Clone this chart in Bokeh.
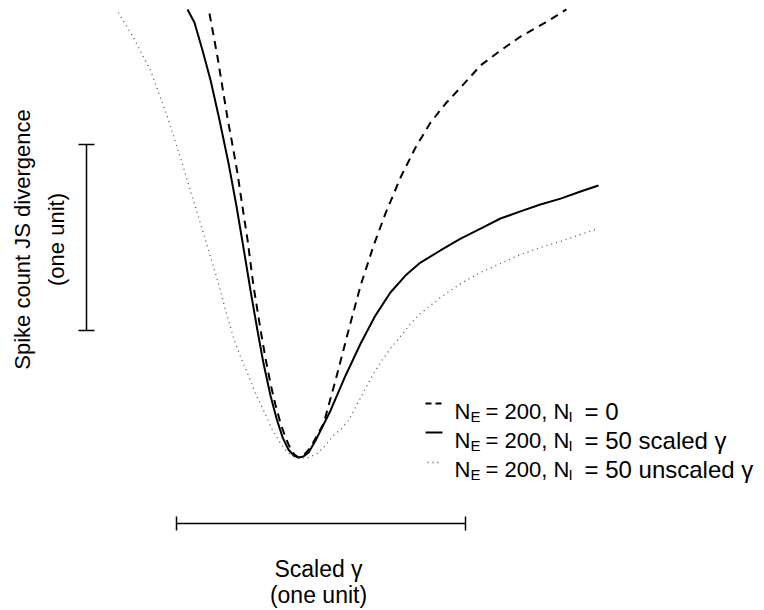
from bokeh.plotting import figure
from bokeh.models import Range1d, Label
from bokeh.embed import file_html
from bokeh.resources import INLINE
import math

# ---------------- data (scaled gamma, JS divergence, both in "one unit" scale) ----------------
dashed_gamma = [-0.308, -0.294, -0.280, -0.263, -0.246, -0.228, -0.211, -0.194, -0.176, -0.156,
                -0.131, -0.114, -0.097, -0.080, -0.062, -0.045, -0.028, -0.014, 0.0,
                0.017, 0.042, 0.087, 0.128, 0.173, 0.215, 0.260, 0.301, 0.353, 0.405,
                0.457, 0.509, 0.561, 0.630, 0.699, 0.768, 0.855, 0.927]
dashed_js = [2.387, 2.269, 2.151, 1.989, 1.828, 1.677, 1.527, 1.349, 1.167, 0.925,
             0.683, 0.532, 0.398, 0.285, 0.183, 0.108, 0.048, 0.016, 0.0,
             0.011, 0.054, 0.183, 0.414, 0.683, 0.925, 1.140, 1.312, 1.505, 1.667,
             1.801, 1.903, 1.989, 2.108, 2.188, 2.263, 2.339, 2.409]

solid_gamma = [-0.384, -0.360, -0.332, -0.304, -0.273, -0.242, -0.215, -0.190, -0.166, -0.142,
               -0.121, -0.097, -0.076, -0.055, -0.035, -0.017, 0.0,
               0.017, 0.035, 0.059, 0.111, 0.163, 0.215, 0.266, 0.318, 0.370, 0.422,
               0.491, 0.561, 0.630, 0.699, 0.768, 0.837, 0.907, 0.976, 1.038]
solid_js = [2.409, 2.339, 2.188, 2.027, 1.812, 1.581, 1.355, 1.124, 0.898, 0.683,
            0.505, 0.333, 0.210, 0.108, 0.043, 0.011, 0.0,
            0.005, 0.027, 0.091, 0.253, 0.441, 0.613, 0.763, 0.887, 0.978, 1.048,
            1.113, 1.177, 1.231, 1.285, 1.323, 1.360, 1.392, 1.430, 1.462]

dotted_gamma = [-0.623, -0.599, -0.571, -0.543, -0.512, -0.484, -0.453, -0.426, -0.398, -0.370,
                -0.339, -0.311, -0.280, -0.253, -0.225, -0.201, -0.176, -0.149, -0.121, -0.093,
                -0.062, -0.038, -0.017, 0.007,
                0.035, 0.066, 0.093, 0.121, 0.149, 0.173, 0.201, 0.228, 0.256, 0.284,
                0.318, 0.353, 0.388, 0.422, 0.491, 0.561, 0.630, 0.699, 0.768, 0.837,
                0.917, 0.976, 1.038]
dotted_js = [2.392, 2.328, 2.258, 2.172, 2.081, 1.962, 1.828, 1.699, 1.559, 1.414,
             1.258, 1.113, 0.952, 0.796, 0.645, 0.543, 0.452, 0.344, 0.253, 0.156,
             0.075, 0.027, 0.005, -0.005,
             0.0, 0.022, 0.065, 0.118, 0.156, 0.199, 0.280, 0.360, 0.441, 0.511,
             0.586, 0.651, 0.720, 0.774, 0.860, 0.935, 0.995, 1.043, 1.091, 1.129,
             1.167, 1.199, 1.231]

legend_labels = [("N", "E", "= 200, N", "I", "= 0"),
                 ("N", "E", "= 200, N", "I", "= 50 scaled \u03b3"),
                 ("N", "E", "= 200, N", "I", "= 50 unscaled \u03b3")]
x_label = ["Scaled \u03b3", "(one unit)"]
y_label = ["Spike count JS divergence", "(one unit)"]

# ---------------- layout ----------------
W, H = 764, 610
X0, Y0, SX, SY = 298.0, 457.0, 289.0, 186.0   # pixel of (0,0) and pixels per unit

def dx(px):
    return (px - X0) / SX

def dy(py):
    return (Y0 - py) / SY

p = figure(width=W, height=H, output_backend="svg", toolbar_location=None,
           x_range=Range1d(dx(0), dx(W)), y_range=Range1d(dy(H), dy(0)),
           min_border=0, outline_line_color=None)
p.xaxis.visible = False
p.yaxis.visible = False
p.grid.visible = False
p.background_fill_color = "white"
p.border_fill_color = "white"

DASH = "8 6"
DOT = "1 4"
DOT_COLOR = "#555555"

p.line(dashed_gamma, dashed_js, line_color="black", line_width=2, line_dash=DASH)
p.line(solid_gamma, solid_js, line_color="black", line_width=2)
p.line(dotted_gamma, dotted_js, line_color=DOT_COLOR, line_width=1.3, line_dash=DOT)

# scale bars (one unit each)
hb_y = dy(523)
hb_x0 = dx(176)
p.segment(x0=[hb_x0], y0=[hb_y], x1=[hb_x0 + 1.0], y1=[hb_y], line_color="black", line_width=1.5)
p.segment(x0=[hb_x0, hb_x0 + 1.0], y0=[hb_y - 7 / SY] * 2, x1=[hb_x0, hb_x0 + 1.0], y1=[hb_y + 7 / SY] * 2,
          line_color="black", line_width=1.5)
vb_x = dx(86)
vb_y0 = dy(330)
p.segment(x0=[vb_x], y0=[vb_y0], x1=[vb_x], y1=[vb_y0 + 1.0], line_color="black", line_width=1.5)
p.segment(x0=[vb_x - 8 / SX] * 2, y0=[vb_y0, vb_y0 + 1.0], x1=[vb_x + 8 / SX] * 2, y1=[vb_y0, vb_y0 + 1.0],
          line_color="black", line_width=1.5)

FONT = "Liberation Sans"

def lab(x, y, text, size=22, angle=0.0, align="left"):
    p.add_layout(Label(x=x, y=H - y, x_units="screen", y_units="screen", text=text,
                       text_font=FONT, text_font_size=f"{size}px", text_color="black",
                       text_align=align, text_baseline="alphabetic", angle=angle))

# axis-like labels
lab(318, 568, x_label[0], size=23, align="center")
lab(318, 594, x_label[1], size=23, align="center")
lab(22, 239, y_label[0], size=22, angle=math.pi / 2, align="center")
lab(56, 239, y_label[1], size=22, angle=math.pi / 2, align="center")

# legend
rows_y = [411, 440, 469]
for (n1, s1, mid, s2, tail), by in zip(legend_labels, rows_y):
    lab(454, by, n1, size=22)
    lab(470, by + 5, s1, size=15)
    lab(485, by, mid, size=22)
    lab(568, by + 5, s2, size=15)
    lab(584, by, tail, size=24)

ly = [dy(403), dy(432), dy(462)]
p.line([dx(425), dx(443)], [ly[0], ly[0]], line_color="black", line_width=2, line_dash="6 4")
p.line([dx(425), dx(442)], [ly[1], ly[1]], line_color="black", line_width=2)
p.line([dx(427), dx(440)], [ly[2], ly[2]], line_color=DOT_COLOR, line_width=1.3, line_dash=DOT)

open("out.html", "w").write(file_html(p, INLINE))
